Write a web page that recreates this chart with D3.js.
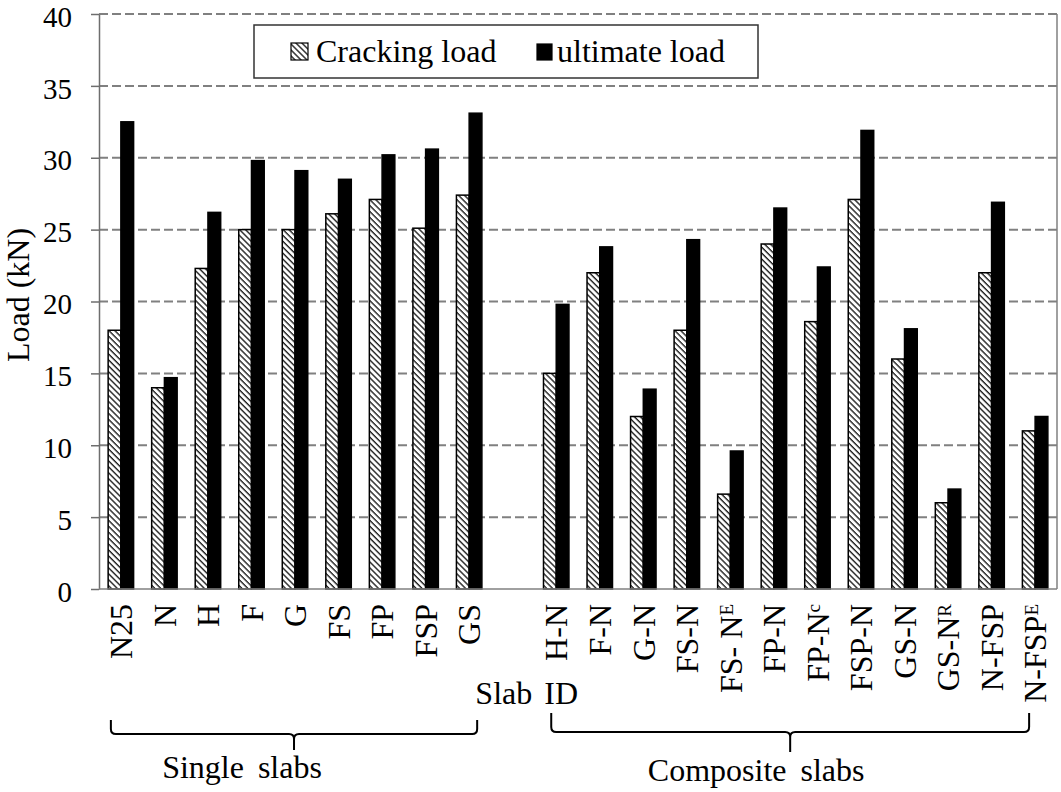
<!DOCTYPE html>
<html>
<head>
<meta charset="utf-8">
<script src="https://cdn.jsdelivr.net/npm/d3@7/dist/d3.min.js"></script>
<style>
	body { margin: 0; background: #fff; }
	svg text { font-family: 'Liberation Serif', 'DejaVu Serif', 'Noto Serif', serif !important; fill: #000; }
</style>
</head>
<body>
<div id="chart"></div>
<script>
// data
var singleSlabs = ["N25", "N", "H", "F", "G", "FS", "FP", "FSP", "GS"];
var compositeSlabs = ["H-N", "F-N", "G-N", "FS-N", "FS- N^E", "FP-N", "FP-N^c", "FSP-N", "GS-N", "GS-N^R", "N-FSP", "N-FSP^E"];

var crackingSingle = [18, 14, 22.3, 25, 25, 26.1, 27.1, 25.1, 27.4];
var ultimateSingle = [32.5, 14.7, 26.2, 29.8, 29.1, 28.5, 30.2, 30.6, 33.1];
var crackingComposite = [15, 22, 12, 18, 6.6, 24, 18.6, 27.1, 16, 6, 22, 11];
var ultimateComposite = [19.8, 23.8, 13.9, 24.3, 9.6, 26.5, 22.4, 31.9, 18.1, 6.95, 26.9, 12];

var seriesNames = ["Cracking load", "ultimate load"];
var yTicks = [0, 5, 10, 15, 20, 25, 30, 35, 40];

var serif = "'Liberation Serif', 'DejaVu Serif', 'Noto Serif', serif";

var width = 1061,
	height = 792,
	margin = { left: 99, top: 14, right: 4, bottom: 203 };

var innerW = width - margin.left - margin.right,
	innerH = height - margin.top - margin.bottom;

var gapKey = "__gap__";
var domain = singleSlabs.concat([gapKey], compositeSlabs);

var rows = [];
singleSlabs.forEach(function(s, i) {
	rows.push({ id: s, values: [crackingSingle[i], ultimateSingle[i]] });
});
compositeSlabs.forEach(function(s, i) {
	rows.push({ id: s, values: [crackingComposite[i], ultimateComposite[i]] });
});

var x = d3.scaleBand()
	.domain(domain)
	.range([0, innerW])
	.paddingInner(0.415)
	.paddingOuter(0.21);

var x1 = d3.scaleBand()
	.domain(seriesNames)
	.range([0, x.bandwidth()]);

var y = d3.scaleLinear()
	.domain([0, 40])
	.range([innerH, 0]);

var svg = d3.select("#chart").append("svg")
	.attr("width", width)
	.attr("height", height)
	.attr("font-family", serif);

var defs = svg.append("defs");
var hatch = defs.append("pattern")
	.attr("id", "hatch")
	.attr("patternUnits", "userSpaceOnUse")
	.attr("width", 4.2)
	.attr("height", 4.2)
	.attr("patternTransform", "rotate(45)");
hatch.append("rect").attr("width", 4.2).attr("height", 4.2).attr("fill", "#fff");
hatch.append("rect").attr("width", 4.2).attr("height", 1.4).attr("fill", "#222");

var fills = { "Cracking load": "url(#hatch)", "ultimate load": "#000" };

var g = svg.append("g")
	.attr("transform", "translate(" + margin.left + "," + margin.top + ")");

// grid
g.selectAll(".grid").data(yTicks.filter(function(d) { return d > 0; }))
	.enter().append("line")
	.attr("class", "grid")
	.attr("x1", 0)
	.attr("x2", innerW)
	.attr("y1", function(d) { return y(d); })
	.attr("y2", function(d) { return y(d); })
	.attr("stroke", "#808080")
	.attr("stroke-width", 2)
	.attr("stroke-dasharray", "9,4");

// right border
g.append("line")
	.attr("x1", innerW).attr("x2", innerW)
	.attr("y1", 0).attr("y2", innerH)
	.attr("stroke", "#808080")
	.attr("stroke-width", 1.5);

// bars
var groups = g.selectAll(".slab").data(rows)
	.enter().append("g")
	.attr("class", "slab")
	.attr("transform", function(d) { return "translate(" + x(d.id) + ",0)"; });

groups.selectAll("rect").data(function(d) {
		return seriesNames.map(function(s, i) { return { key: s, value: d.values[i] }; });
	})
	.enter().append("rect")
	.attr("x", function(d) { return x1(d.key); })
	.attr("width", x1.bandwidth())
	.attr("y", function(d) { return y(d.value); })
	.attr("height", function(d) { return innerH - y(d.value); })
	.attr("fill", function(d) { return fills[d.key]; })
	.attr("stroke", "#000")
	.attr("stroke-width", 1.5);

// y axis
var yAxis = g.append("g")
	.call(d3.axisLeft(y).tickValues(yTicks).tickSize(8).tickPadding(19).tickSizeOuter(0));
yAxis.attr("font-family", serif);
yAxis.selectAll("path, line").attr("stroke", "#6e6e6e").attr("stroke-width", 1.5);
yAxis.selectAll("text")
	.style("font-family", serif)
	.style("font-size", "29px")
	.attr("fill", "#000")
	.attr("dy", "0.42em");

// x baseline
g.append("line")
	.attr("x1", 0).attr("x2", innerW)
	.attr("y1", innerH).attr("y2", innerH)
	.attr("stroke", "#808080")
	.attr("stroke-width", 1.5);

// x tick labels, rotated, with superscripts
var labels = g.selectAll(".xlab").data(rows)
	.enter().append("text")
	.attr("class", "xlab")
	.attr("transform", function(d) {
		return "translate(" + (x(d.id) + x.bandwidth() / 2) + "," + (innerH + 15) + ") rotate(-90)";
	})
	.attr("text-anchor", "end")
	.attr("dy", "0.35em")
	.style("font-family", serif)
	.style("font-size", "32px");

labels.each(function(d) {
	var parts = d.id.split("^");
	var t = d3.select(this);
	t.append("tspan").text(parts[0]);
	if (parts[1]) {
		t.append("tspan")
			.attr("dy", "-0.45em")
			.style("font-size", "19px")
			.text(parts[1]);
	}
});

// axis titles
svg.append("text")
	.attr("transform", "translate(29,295) rotate(-90)")
	.attr("text-anchor", "middle")
	.style("font-family", serif)
	.style("font-size", "32px")
	.text("Load (kN)");

svg.append("text")
	.attr("x", margin.left + x(gapKey) + x.bandwidth() / 2 + 14)
	.attr("y", 704)
	.attr("text-anchor", "middle")
	.style("font-family", serif)
	.style("font-size", "32px")
	.style("word-spacing", "4px")
	.text("Slab ID");

// braces under the two groups
var braces = [
	{ label: "Single slabs", first: singleSlabs[0], last: singleSlabs[singleSlabs.length - 1], d1: -10, d2: 8, top: 720, bar: 734, tip: 750, textDx: -52, textY: 778 },
	{ label: "Composite slabs", first: compositeSlabs[0], last: compositeSlabs[compositeSlabs.length - 1], d1: -5, d2: -6, top: 713, bar: 732, tip: 752, textDx: -34, textY: 781 }
];

braces.forEach(function(b) {
	var xa = margin.left + x(b.first) + x.bandwidth() / 2 + b.d1,
		xb = margin.left + x(b.last) + x.bandwidth() / 2 + b.d2,
		xm = (xa + xb) / 2,
		r = 5;
	var p = d3.path();
	p.moveTo(xa, b.top);
	p.lineTo(xa, b.bar - r);
	p.quadraticCurveTo(xa, b.bar, xa + r, b.bar);
	p.lineTo(xm - r, b.bar);
	p.quadraticCurveTo(xm, b.bar, xm, b.bar + r);
	p.lineTo(xm, b.tip);
	p.moveTo(xm, b.bar + r);
	p.quadraticCurveTo(xm, b.bar, xm + r, b.bar);
	p.lineTo(xb - r, b.bar);
	p.quadraticCurveTo(xb, b.bar, xb, b.bar - r);
	p.lineTo(xb, b.top);
	svg.append("path")
		.attr("d", p.toString())
		.attr("fill", "none")
		.attr("stroke", "#000")
		.attr("stroke-width", 2);
	svg.append("text")
		.attr("x", xm + b.textDx)
		.attr("y", b.textY)
		.attr("text-anchor", "middle")
		.style("font-family", serif)
		.style("font-size", "32px")
		.style("word-spacing", "6px")
		.text(b.label);
});

// legend
var legend = svg.append("g").attr("transform", "translate(254,25)");
legend.append("rect")
	.attr("width", 504)
	.attr("height", 53)
	.attr("fill", "#fff")
	.attr("stroke", "#333")
	.attr("stroke-width", 1.5);

var legendX = [37, 283];
var items = legend.selectAll(".item").data(seriesNames)
	.enter().append("g")
	.attr("transform", function(d, i) { return "translate(" + legendX[i] + ",18)"; });

items.append("rect")
	.attr("width", function(d, i) { return i === 0 ? 17 : 15; })
	.attr("height", function(d, i) { return i === 0 ? 17 : 16; })
	.attr("y", function(d, i) { return i === 0 ? 0 : 1; })
	.attr("fill", function(d) { return fills[d]; })
	.attr("stroke", "#000")
	.attr("stroke-width", 1.2);

items.append("text")
	.attr("x", function(d, i) { return i === 0 ? 25 : 20; })
	.attr("y", 19)
	.style("font-family", serif)
	.style("font-size", "32px")
	.text(function(d) { return d; });
</script>
</body>
</html>
